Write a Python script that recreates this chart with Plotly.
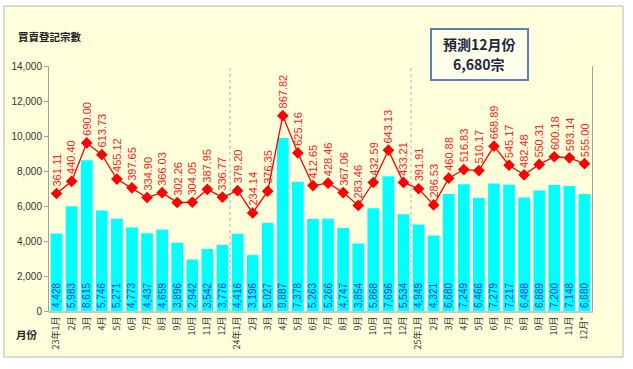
import plotly.graph_objects as go

months = ["23年1月", "2月", "3月", "4月", "5月", "6月", "7月", "8月", "9月", "10月", "11月", "12月",
          "24年1月", "2月", "3月", "4月", "5月", "6月", "7月", "8月", "9月", "10月", "11月", "12月",
          "25年1月", "2月", "3月", "4月", "5月", "6月", "7月", "8月", "9月", "10月", "11月", "12月*"]

deals = [4428, 5983, 8615, 5746, 5271, 4773, 4437, 4659, 3896, 2942, 3542, 3776,
         4416, 3196, 5027, 9887, 7378, 5263, 5266, 4747, 3854, 5868, 7696, 5534,
         4949, 4321, 6680, 7249, 6466, 7279, 7217, 6488, 6889, 7200, 7148, 6680]

amounts = [361.11, 440.40, 690.00, 613.73, 455.12, 397.65, 334.90, 366.03, 302.26, 304.05, 387.95, 336.77,
           379.20, 234.14, 376.35, 867.82, 625.16, 412.65, 428.46, 367.06, 283.46, 432.59, 643.13, 433.21,
           391.91, 286.53, 460.88, 516.83, 510.17, 668.89, 545.17, 482.48, 550.31, 600.18, 593.14, 555.00]

y_ticks = [0, 2000, 4000, 6000, 8000, 10000, 12000, 14000]

xs = list(range(len(months)))
FONT = "Liberation Sans, Arial, Noto Sans CJK TC, sans-serif"
CJK = "Noto Sans CJK TC, Liberation Sans, sans-serif"

L, R, T, B = 49, 41, 66, 58
PW, PH = 633 - L - R, 369 - T - B
def px(xp):
    return (xp - L) / PW
def py(yp):
    return (369 - B - yp) / PH

fig = go.Figure()
fig.add_trace(go.Bar(
    x=xs, y=deals,
    marker=dict(color="#00FFFF", line=dict(width=0)),
    text=[f"{v:,}" for v in deals],
    textposition="inside", insidetextanchor="start", textangle=-90,
    constraintext="none",
    textfont=dict(color="#2030F0", size=10, family=FONT),
    width=0.78, yaxis="y", showlegend=False,
))
fig.add_trace(go.Scatter(
    x=xs, y=amounts, yaxis="y2", mode="lines+markers",
    line=dict(color="#FF0000", width=1.3),
    marker=dict(symbol="diamond", size=9, color="#FF0000"),
    showlegend=False,
))

annotations = []
for i, v in enumerate(amounts):
    annotations.append(dict(
        x=i, y=v, xref="x", yref="y2", text=f"{v:.2f}", showarrow=False,
        textangle=-90, yanchor="bottom", xanchor="center", yshift=5,
        font=dict(color="#FF2020", size=11, family=FONT),
    ))

annotations.append(dict(x=px(16), y=py(37), xref="paper", yref="paper", text="<b>買賣登記宗數</b>",
                        showarrow=False, xanchor="left", yanchor="middle",
                        font=dict(size=10.5, color="#222", family=CJK)))
annotations.append(dict(x=px(14), y=py(334), xref="paper", yref="paper", text="<b>月份</b>",
                        showarrow=False, xanchor="left", yanchor="middle",
                        font=dict(size=10.5, color="#222", family=CJK)))
annotations.append(dict(x=px(479), y=py(44), xref="paper", yref="paper",
                        text="<b>預測12月份</b>", showarrow=False,
                        xanchor="center", yanchor="middle",
                        font=dict(size=14, color="#1C2540", family=CJK)))
annotations.append(dict(x=px(479), y=py(64), xref="paper", yref="paper",
                        text="<b>6,680宗</b>", showarrow=False,
                        xanchor="center", yanchor="middle",
                        font=dict(size=14, color="#1C2540", family=CJK)))

shapes = [
    dict(type="rect", xref="paper", yref="paper", x0=px(4), x1=px(623), y0=py(357), y1=py(6),
         fillcolor="#FFFFDC", line=dict(color="#B8B8B8", width=1), layer="below"),
    dict(type="rect", xref="paper", yref="paper", x0=px(431), x1=px(528), y0=py(80), y1=py(29),
         fillcolor="#FFFFEB", line=dict(color="#5B80B8", width=2), layer="below"),
    dict(type="line", xref="x", yref="paper", x0=11.5, x1=11.5, y0=0, y1=1,
         line=dict(color="#B0B0B0", width=1, dash="dot"), layer="below"),
    dict(type="line", xref="x", yref="paper", x0=23.5, x1=23.5, y0=0, y1=1,
         line=dict(color="#B0B0B0", width=1, dash="dot"), layer="below"),
]

fig.update_layout(
    width=633, height=369,
    margin=dict(l=L, r=R, t=T, b=B, autoexpand=False),
    paper_bgcolor="white", plot_bgcolor="rgba(0,0,0,0)",
    bargap=0.2,
    font=dict(family=FONT, size=10, color="#333"),
    xaxis=dict(range=[-0.5, 35.5], tickmode="array", tickvals=xs, ticktext=months,
               tickangle=-90, tickfont=dict(size=9, family=CJK, color="#333"),
               showgrid=False, zeroline=False, showline=True, linecolor="#C8C8C8", linewidth=2,
               ticks="", fixedrange=True, automargin=False),
    yaxis=dict(range=[0, 14000], tickvals=y_ticks, ticktext=[f"{v:,}" for v in y_ticks],
               showgrid=False, zeroline=False, showline=True, linecolor="#A0A0A0", linewidth=1,
               ticks="outside", ticklen=4, tickcolor="#A0A0A0", automargin=False,
               tickfont=dict(size=10, color="#333")),
    yaxis2=dict(overlaying="y", side="right", range=[-404, 1191], showgrid=False, zeroline=False,
                showticklabels=False, ticks="", showline=True, linecolor="#A0A0A0", linewidth=1,
                automargin=False),
    annotations=annotations, shapes=shapes,
)

fig.write_html("out.html", config={"displayModeBar": False},
               post_script="document.body.style.margin='0';document.body.style.padding='0';")
